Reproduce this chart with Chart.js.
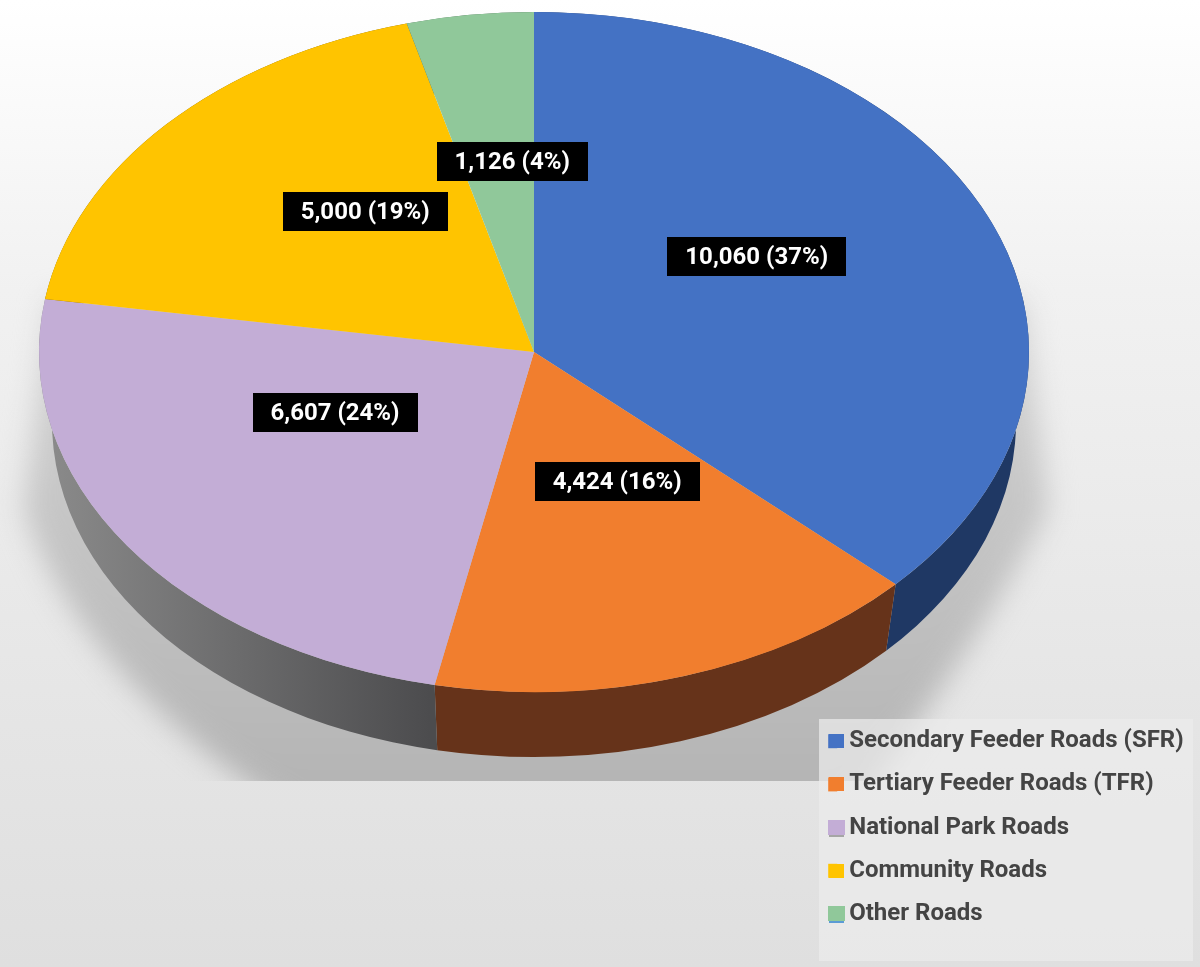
<!DOCTYPE html>
<html>
<head>
<meta charset="utf-8">
<style>
  html, body { margin: 0; padding: 0; background: #e6e6e6; }
  #wrap { position: relative; width: 1200px; height: 967px; }
</style>
<script src="https://cdn.jsdelivr.net/npm/chart.js@4"></script>
</head>
<body>
<div id="wrap"><canvas id="pie" width="1200" height="967"></canvas></div>
<script>
// Road network length by class
const categories = [
  'Secondary Feeder Roads (SFR)',
  'Tertiary Feeder Roads (TFR)',
  'National Park Roads',
  'Community Roads',
  'Other Roads'
];
const roadLengths = [10060, 4424, 6607, 5000, 1126];
const sharePercent = [37, 16, 24, 19, 4];
const sliceColors = ['#4472C4', '#F17E2E', '#C3ADD6', '#FFC400', '#90C89A'];
const rimColors = ['#1F3864', '#66331A', '#666666', '#806000', '#486450'];

// Elliptical projection of the disc: top face and lower rim
const FACE = { rx: 495, ry: 340 };
const BASE = { cy: 422, rx: 482, ry: 335 };
const LEGEND_BOX = { x: 819, y: 719, w: 374, h: 242 };
// Label anchors as fractions of the face radii, measured from the pie centre
const labelAnchors = [[0.45, -0.28], [0.168, 0.382], [-0.402, 0.179], [-0.341, -0.412], [-0.044, -0.559]];
const FONT = 'bold 24px Roboto';

function drawBackdrop(ctx) {
  const bg = ctx.createLinearGradient(0, 0, 0, 967);
  bg.addColorStop(0, '#ffffff');
  bg.addColorStop(0.3, '#f1f1f1');
  bg.addColorStop(0.75, '#e5e5e5');
  bg.addColorStop(1, '#dfdfdf');
  ctx.fillStyle = bg;
  ctx.fillRect(0, 0, 1200, 967);

  // Soft cast shadow, cut off sharply along its lower edge
  ctx.save();
  ctx.beginPath();
  ctx.rect(0, 0, 1200, 781);
  ctx.clip();
  ctx.filter = 'blur(14px)';
  const sh = ctx.createLinearGradient(0, 290, 0, 790);
  sh.addColorStop(0, '#d4d4d4');
  sh.addColorStop(1, '#b4b4b4');
  ctx.fillStyle = sh;
  ctx.beginPath();
  ctx.moveTo(50, 300);
  ctx.lineTo(24, 510);
  ctx.bezierCurveTo(70, 650, 200, 760, 320, 830);
  ctx.lineTo(840, 830);
  ctx.bezierCurveTo(920, 720, 980, 640, 1048, 510);
  ctx.lineTo(1024, 300);
  ctx.closePath();
  ctx.fill();
  ctx.restore();

  ctx.fillStyle = 'rgba(236,236,236,0.72)';
  ctx.fillRect(LEGEND_BOX.x, LEGEND_BOX.y, LEGEND_BOX.w, LEGEND_BOX.h);
}

function drawRim(chart, ctx) {
  const arcs = chart.getDatasetMeta(0).data;
  const purple = ctx.createLinearGradient(50, 0, 430, 0);
  purple.addColorStop(0, '#8a8a8a');
  purple.addColorStop(1, '#4c4c4e');
  arcs.forEach((arc, i) => {
    const { x, y, startAngle, endAngle } = arc.getProps(['x', 'y', 'startAngle', 'endAngle'], true);
    ctx.beginPath();
    ctx.ellipse(x, y, FACE.rx, FACE.ry, 0, startAngle, endAngle);
    ctx.ellipse(x, BASE.cy, BASE.rx, BASE.ry, 0, endAngle, startAngle, true);
    ctx.closePath();
    ctx.fillStyle = i === 2 ? purple : rimColors[i];
    ctx.fill();
  });
}

function drawValueLabels(chart, ctx) {
  const arcs = chart.getDatasetMeta(0).data;
  ctx.save();
  ctx.font = FONT;
  ctx.textAlign = 'center';
  ctx.textBaseline = 'middle';
  arcs.forEach((arc, i) => {
    const text = roadLengths[i].toLocaleString('en-US') + ' (' + sharePercent[i] + '%)';
    const cx = arc.x + labelAnchors[i][0] * FACE.rx;
    const cy = arc.y + labelAnchors[i][1] * FACE.ry;
    const w = Math.round(ctx.measureText(text).width) + 36;
    ctx.fillStyle = '#000000';
    ctx.fillRect(Math.round(cx - w / 2), Math.round(cy - 19.5), w, 39);
    ctx.fillStyle = '#ffffff';
    ctx.fillText(text, cx, cy + 1);
  });
  ctx.restore();
}

// Squeezes the round pie into the face ellipse and paints everything around it
const discPlugin = {
  id: 'disc',
  afterLayout(chart) {
    const legend = chart.legend;
    const dx = LEGEND_BOX.x - 10 - legend.left;
    const dy = LEGEND_BOX.y - 9 - legend.top;
    legend.left += dx; legend.right += dx;
    legend.top += dy; legend.bottom += dy;
    legend.legendHitBoxes.forEach(b => { b.left += dx; b.top += dy; });
  },
  beforeDraw(chart) {
    drawBackdrop(chart.ctx);
  },
  beforeDatasetsDraw(chart) {
    const ctx = chart.ctx;
    drawRim(chart, ctx);
    const arc = chart.getDatasetMeta(0).data[0];
    ctx.save();
    ctx.translate(arc.x, arc.y);
    ctx.scale(FACE.rx / arc.outerRadius, FACE.ry / arc.outerRadius);
    ctx.translate(-arc.x, -arc.y);
  },
  afterDatasetsDraw(chart) {
    chart.ctx.restore();
  },
  afterDraw(chart) {
    const ctx = chart.ctx;
    drawValueLabels(chart, ctx);
    // Full-width legend swatches, two of them with a sliver of a second colour below
    const rows = chart.legend.legendHitBoxes;
    rows.forEach((b, i) => {
      const top = Math.round(b.top + b.height / 2 - 7);
      const left = LEGEND_BOX.x + 10;
      if (i === 2) { ctx.fillStyle = '#A5A5A5'; ctx.fillRect(left, top + 2, 15, 14); }
      if (i === 4) { ctx.fillStyle = '#5B9BD5'; ctx.fillRect(left, top + 2, 15, 14); }
      ctx.fillStyle = sliceColors[i];
      const wide = (i === 2 || i === 4) ? 1 : 0;
      ctx.fillRect(left - wide, top - wide, 15 + wide * 2, 14 + wide);
    });
  }
};

new Chart(document.getElementById('pie'), {
  type: 'pie',
  plugins: [discPlugin],
  data: {
    labels: categories,
    datasets: [{
      data: roadLengths,
      backgroundColor: sliceColors,
      borderWidth: 0,
      clip: false
    }]
  },
  options: {
    responsive: false,
    animation: false,
    layout: { padding: { top: 12, bottom: 275, left: 40, right: 172 } },
    plugins: {
      tooltip: { enabled: false },
      legend: {
        position: 'chartArea',
        align: 'start',
        labels: {
          boxWidth: 9,
          boxHeight: 14,
          padding: 19.2,
          color: '#444444',
          font: { family: 'Roboto', size: 24, weight: 'bold' }
        }
      }
    }
  }
});
</script>
</body>
</html>
